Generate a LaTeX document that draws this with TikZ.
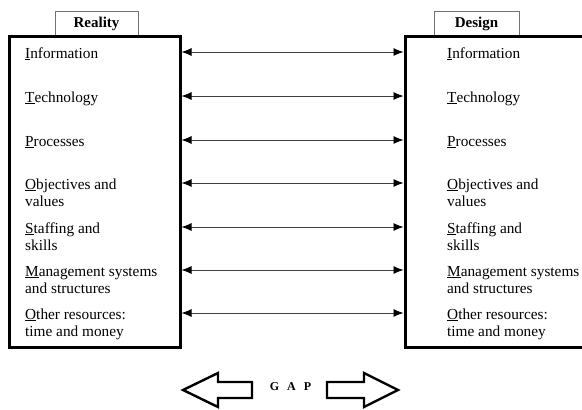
\documentclass[tikz,border=0pt]{standalone}
\usepackage{fontspec}
\setmainfont{Liberation Serif}
\usetikzlibrary{arrows.meta}
\tikzstyle{bigbox} = [draw, line width=3pt, rectangle, inner sep=0pt]
\tikzstyle{tab} = [draw=black!55, line width=0.8pt, rectangle, inner sep=0pt,
    font=\fontsize{15}{17}\selectfont\bfseries]
\tikzstyle{item} = [anchor=base west, inner sep=0pt,
    font=\fontsize{15.3}{17}\selectfont]
\tikzstyle{link} = [{Latex[length=10pt,width=8pt,black]}-{Latex[length=10pt,width=8pt,black]},
    draw=black!75, line width=0.8pt]
\tikzstyle{gaparrow} = [draw, line width=2.4pt, line join=miter]

\begin{document}
\begin{tikzpicture}[x=1pt, y=-1pt]
\useasboundingbox (0,0) rectangle (582,410);
\clip (0,0) rectangle (582,410);

% tabs on top of the boxes
\node[tab, name=realtab, minimum width=83pt, minimum height=26pt] at (96.5,24) {Reality};
\node[tab, name=designtab, minimum width=85pt, minimum height=26pt] at (476.5,24) {Design};

% the two boxes
\node[bigbox, name=real, fill=white, minimum width=170.5pt, minimum height=311pt] at (94.75,192) {};
\node[bigbox, name=design, fill=white, minimum width=215pt, minimum height=311pt] at (512.5,192) {};

\coordinate (row1) at (0,52);
\coordinate (row2) at (0,96);
\coordinate (row3) at (0,140);
\coordinate (row4) at (0,183);
\coordinate (row5) at (0,227);
\coordinate (row6) at (0,270);
\coordinate (row7) at (0,313);

% left column
\node[item, name=l1] at (25,58) {\underline{I}nformation};
\node[item, name=l2] at (25,102) {\underline{T}echnology};
\node[item, name=l3] at (25,146) {\underline{P}rocesses};
\node[item, name=l4] at (25,189) {\underline{O}bjectives and};
\node[item, name=l4b] at (25,206.5) {values};
\node[item, name=l5] at (25,233) {\underline{S}taffing and};
\node[item, name=l5b] at (25,250.5) {skills};
\node[item, name=l6] at (25,276) {\underline{M}anagement systems};
\node[item, name=l6b] at (25,293.5) {and structures};
\node[item, name=l7] at (25,319) {\underline{O}ther resources:};
\node[item, name=l7b] at (25,336.5) {time and money};

% right column
\node[item, name=r1] at (447,58) {\underline{I}nformation};
\node[item, name=r2] at (447,102) {\underline{T}echnology};
\node[item, name=r3] at (447,146) {\underline{P}rocesses};
\node[item, name=r4] at (447,189) {\underline{O}bjectives and};
\node[item, name=r4b] at (447,206.5) {values};
\node[item, name=r5] at (447,233) {\underline{S}taffing and};
\node[item, name=r5b] at (447,250.5) {skills};
\node[item, name=r6] at (447,276) {\underline{M}anagement systems};
\node[item, name=r6b] at (447,293.5) {and structures};
\node[item, name=r7] at (447,319) {\underline{O}ther resources:};
\node[item, name=r7b] at (447,336.5) {time and money};

\draw[link] (row1 -| real.east) -- (row1 -| design.west);
\draw[link] (row2 -| real.east) -- (row2 -| design.west);
\draw[link] (row3 -| real.east) -- (row3 -| design.west);
\draw[link] (row4 -| real.east) -- (row4 -| design.west);
\draw[link] (row5 -| real.east) -- (row5 -| design.west);
\draw[link] (row6 -| real.east) -- (row6 -| design.west);
\draw[link] (row7 -| real.east) -- (row7 -| design.west);

% gap
\node[name=gap, font=\fontsize{12}{12}\selectfont\bfseries] at (290.5,387) {G\hspace{8pt}A\hspace{8pt}P};
\draw[gaparrow] (183,390) -- (218,373) -- (218,382) -- (252,382) -- (252,398)
    -- (218,398) -- (218,407) -- cycle;
\draw[gaparrow] (327,382) -- (364,382) -- (364,373) -- (398,390) -- (364,407)
    -- (364,398) -- (327,398) -- cycle;
\end{tikzpicture}
\end{document}
